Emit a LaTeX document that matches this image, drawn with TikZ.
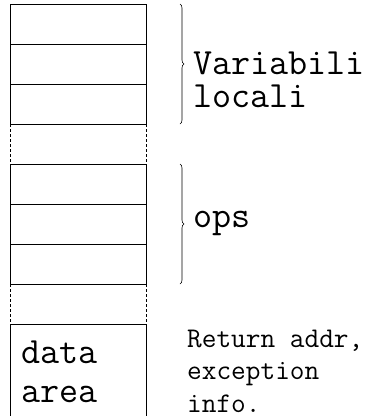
\documentclass[tikz,border=0pt]{standalone}
\usetikzlibrary{positioning,decorations.pathreplacing}

\begin{document}
\begin{tikzpicture}[x=1pt,y=-1pt]
\tikzset{cell/.style={draw,line width=0.6pt,minimum width=136pt,minimum height=40pt,inner sep=0pt,outer sep=0pt},
  gapside/.style={line width=0.6pt,dashed,dash pattern=on 3pt off 2pt},
  curly/.style={decorate,decoration={brace,amplitude=4pt},line width=0.6pt},
  bigtxt/.style={font=\ttfamily\fontsize{37}{33}\selectfont,align=left,inner sep=0pt},
  smalltxt/.style={font=\ttfamily\fontsize{28.5}{32.5}\selectfont,align=left,inner sep=0pt}}
\useasboundingbox (0,0) rectangle (371,416);
\clip (0,0) rectangle (371,416);
% local variables
\node[cell,anchor=north west] (v1) at (10,4) {};
\node[cell,below=0pt of v1] (v2) {};
\node[cell,below=0pt of v2] (v3) {};
% operand stack
\node[cell,below=40pt of v3] (o1) {};
\node[cell,below=0pt of o1] (o2) {};
\node[cell,below=0pt of o2] (o3) {};
% frame data
\node[cell,below=40pt of o3,minimum height=120pt] (fd) {};
\draw[gapside] (v3.south west) -- (o1.north west);
\draw[gapside] (v3.south east) -- (o1.north east);
\draw[gapside] (o3.south west) -- (fd.north west);
\draw[gapside] (o3.south east) -- (fd.north east);
% braces
\coordinate (vtop) at (180,4);
\coordinate (vbot) at (180,124);
\coordinate (otop) at (180,164);
\coordinate (obot) at (180,284);
\draw[curly] (vtop) -- (vbot);
\draw[curly] (otop) -- (obot);
% labels (base = last line)
\node[bigtxt,anchor=base west] (vars) at (193,107) {Variabili\\locali};
\node[bigtxt,anchor=base west] (ops) at (193,227) {ops};
\node[bigtxt,anchor=base west,font=\ttfamily\fontsize{37}{39}\selectfont] (area) at (21,402) {data\\area};
\node[smalltxt,anchor=base west] (info) at (187,412) {Return addr,\\exception\\info.};
\end{tikzpicture}
\end{document}
